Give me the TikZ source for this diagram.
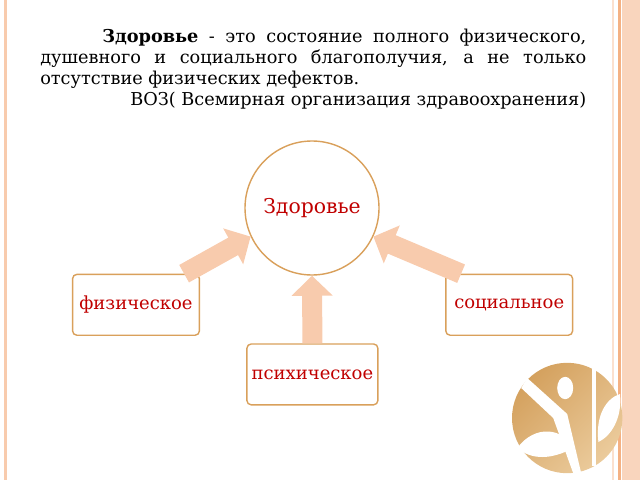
\documentclass[tikz,border=0pt]{standalone}
\usepackage{fontspec}
\setmainfont{DejaVu Serif}
\usetikzlibrary{positioning,arrows.meta}
\definecolor{peach}{HTML}{F8CBAD}
\definecolor{stripe}{HTML}{F4B183}
\definecolor{boxline}{HTML}{D9A05B}
\definecolor{wordred}{HTML}{C00000}
\definecolor{logoA}{HTML}{D4A15E}
\definecolor{logoB}{HTML}{EBCB9C}
\tikzset{
  part/.style={draw=boxline,line width=1pt,rounded corners=3pt,minimum width=3.17cm,
    minimum height=1.52cm,font=\fontsize{12.8}{14}\selectfont,text=wordred},
  fat/.style={draw=peach,line width=0.5cm,-{Triangle[length=0.5cm,width=1.0cm]}}
}
\begin{document}
\begin{tikzpicture}
  \useasboundingbox (0,0) rectangle (16,12);
  % frame stripes
  \fill[peach] (0.1,0) rectangle (0.18,12);
  \fill[peach!60] (15.3,0) rectangle (15.35,12);
  \fill[stripe] (15.45,0) rectangle (15.53,12);
  \fill[peach!80] (15.55,0) rectangle (16,12);
  % definition text
  \node[text width=13.65cm,align=justify,font=\fontsize{12.6}{15}\selectfont,
    anchor=north west,inner sep=0pt] (def) at (1.0,11.28)
    {\hspace*{1.55cm}\textbf{Здоровье} - это состояние полного физического,
    душевного и социального благополучия, а не только
    отсутствие физических дефектов.\par
    \hfill ВОЗ( Всемирная организация здравоохранения)};
  % diagram
  \node[circle,draw=boxline,line width=1pt,minimum size=3.35cm,
    font=\fontsize{14.5}{15}\selectfont,text=wordred] (zdr) at (7.8,6.8) {Здоровье};
  \node[part] (fiz) at (3.4,4.38) {физическое};
  \node[part] (soc) at (12.73,4.38) {социальное};
  \node[part] (psy) at (7.81,2.64) {психическое};
  \draw[fat] ([xshift=-0.4cm]fiz.north east) -- (zdr.205);
  \draw[fat] ([xshift=0.4cm]soc.north west) -- (zdr.335);
  \draw[fat] (psy.north) -- (zdr.south);
  % logo
  \shade[left color=logoA,right color=logoB,shading angle=45] (14.18,1.55) circle (1.38cm);
  \begin{scope}[shift={(14.18,1.55)}]
    \fill[white] (-0.05,0.75) ellipse (0.2cm and 0.28cm);
    \fill[white] (-1.15,0.75) -- (-0.35,0.0) -- (0.15,-1.38) -- (0.35,-1.38) -- (0.0,0.1) -- (-1.0,1.0) -- cycle;
    \fill[white] (0.62,1.38) -- (0.72,1.38) -- (0.72,-1.2) -- (0.62,-1.2) -- cycle;
    \fill[white] (-1.25,-0.75) .. controls (-0.8,-0.15) and (-0.1,-0.25) .. (0.15,-0.75)
      .. controls (-0.4,-1.05) and (-0.9,-1.05) .. (-1.25,-0.75) -- cycle;
    \fill[white] (0.78,-0.6) .. controls (0.7,0.1) and (1.0,0.5) .. (1.32,0.6)
      .. controls (1.38,0.0) and (1.1,-0.45) .. (0.78,-0.6) -- cycle;
  \end{scope}
\end{tikzpicture}
\end{document}
